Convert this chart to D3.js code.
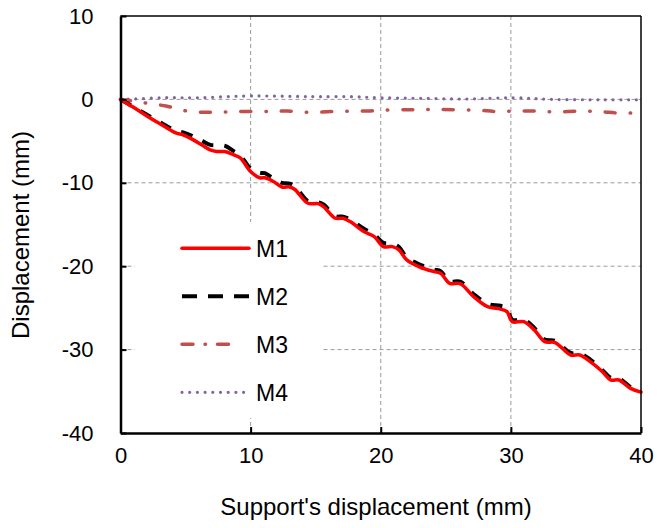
<!DOCTYPE html>
<html>
<head>
<meta charset="utf-8">
<script src="https://cdn.jsdelivr.net/npm/d3@7"></script>
<style>
  body { margin: 0; background: #fff; }
  svg { display: block; font-family: Arial, "Liberation Sans", sans-serif; }
</style>
</head>
<body>
<div id="chart"></div>
<script>
// Support's displacement (mm) - sampled along each curve
const m1X = [0, 1, 2, 3, 3.6, 4.3, 4.8, 5.6, 6.3, 6.9, 7.4, 8.0, 8.7, 9.2, 10, 10.7, 11.1, 11.75, 12.4, 13.0, 13.4, 14.4, 15.2, 15.6, 16.5, 17.1, 17.65, 18.7, 19.5, 20.2, 20.9, 21.4, 22.0, 23.0, 24.1, 24.6, 25.3, 26.1, 27.1, 28.2, 29.2, 29.7, 30.1, 31.0, 31.8, 32.6, 33.4, 34.6, 35.3, 36.1, 37.0, 37.7, 38.3, 39.2, 40];
const m1Y = [0, -0.95, -1.95, -2.9, -3.45, -4.05, -4.25, -4.85, -5.5, -6.05, -6.25, -6.25, -6.65, -7.0, -8.65, -9.4, -9.4, -9.85, -10.5, -10.5, -10.8, -12.45, -12.5, -12.85, -14.25, -14.25, -14.65, -15.85, -16.45, -17.65, -17.65, -18.05, -19.25, -20.1, -20.65, -20.85, -22.05, -22.1, -23.6, -24.85, -25.15, -25.45, -26.65, -26.65, -27.65, -29.05, -29.15, -30.65, -30.65, -31.45, -32.6, -33.65, -33.65, -34.65, -35.1];
const m2Y = [0, -0.9, -1.8, -2.7, -3.25, -3.75, -3.95, -4.45, -5.0, -5.45, -5.5, -5.55, -6.2, -6.7, -8.3, -8.8, -8.85, -9.5, -10.0, -10.1, -10.4, -12.2, -12.35, -12.6, -14.0, -14.05, -14.4, -15.5, -16.2, -17.2, -17.3, -17.7, -18.95, -19.8, -20.4, -20.6, -21.8, -21.85, -23.3, -24.5, -24.75, -25.0, -26.4, -26.4, -27.4, -28.8, -28.95, -30.4, -30.45, -31.2, -32.4, -33.4, -33.45, -34.5, -35.05];
const m3X = [0, 1, 2, 3.5, 5.1, 6.9, 8.2, 9.7, 11.4, 12.8, 14.6, 16.5, 19.2, 21, 22.6, 24.1, 25.7, 27.5, 28.9, 30.4, 31.9, 33.5, 35.2, 36.8, 38.4, 40];
const m3Y = [0, -0.2, -0.45, -0.8, -1.4, -1.55, -1.5, -1.45, -1.45, -1.4, -1.55, -1.45, -1.38, -1.25, -1.25, -1.2, -1.25, -1.3, -1.45, -1.4, -1.4, -1.5, -1.4, -1.45, -1.65, -1.6];
const m4X = [0, 1, 3.5, 6.1, 9.4, 11.8, 13.8, 15.3, 17.7, 19.9, 23, 26.6, 30.2, 33.2, 37.1, 40];
const m4Y = [0, 0.05, 0.2, 0.2, 0.4, 0.4, 0.35, 0.33, 0.33, 0.2, 0.13, 0.05, 0.2, 0.0, -0.05, -0.05];

const seriesNames = ['M1', 'M2', 'M3', 'M4'];
const xTicks = [0, 10, 20, 30, 40];
const yTicks = [10, 0, -10, -20, -30, -40];

const width = 657, height = 528;
const margin = { top: 16, right: 16, bottom: 95, left: 120.5 };

const svg = d3.select('#chart').append('svg')
    .attr('width', width)
    .attr('height', height);

const x = d3.scaleLinear().domain([0, 40]).range([margin.left, width - margin.right]);
const y = d3.scaleLinear().domain([-40, 10]).range([height - margin.bottom, margin.top]);

// grid
svg.append('g')
    .selectAll('line.vg')
    .data(xTicks.filter(d => d > 0 && d < 40))
    .enter().append('line')
    .attr('x1', d => x(d)).attr('x2', d => x(d))
    .attr('y1', y(10)).attr('y2', y(-40))
    .attr('stroke', '#9a9a9a').attr('stroke-width', 1).attr('stroke-dasharray', '4 3');

svg.append('g')
    .selectAll('line.hg')
    .data(yTicks.filter(d => d < 10 && d > -40))
    .enter().append('line')
    .attr('x1', x(0)).attr('x2', x(40))
    .attr('y1', d => y(d)).attr('y2', d => y(d))
    .attr('stroke', '#9a9a9a').attr('stroke-width', 1).attr('stroke-dasharray', '4 3');

// legend background hides the grid behind it
svg.append('rect')
    .attr('x', 135).attr('y', 222)
    .attr('width', 188).attr('height', 196)
    .attr('fill', '#fff');

const series = [
    { name: 'M1', xs: m1X, ys: m1Y, color: '#ff0000', w: 3.5, dash: null, cap: 'round' },
    { name: 'M2', xs: m1X, ys: m2Y, color: '#000000', w: 4, dash: '12 11', cap: 'butt' },
    { name: 'M3', xs: m3X, ys: m3Y, color: '#c0504d', w: 3.5, dash: '10 15 0.5 15', cap: 'round' },
    { name: 'M4', xs: m4X, ys: m4Y, color: '#8064a2', w: 3.2, dash: '0 7.7', cap: 'round' }
];

const line = d3.line()
    .x(d => x(d[0]))
    .y(d => y(d[1]))
    .curve(d3.curveCatmullRom.alpha(0.5));

// red sits on top of the black dashes in the reference
const drawOrder = ['M4', 'M3', 'M2', 'M1'];
drawOrder.forEach(name => {
    const s = series.find(t => t.name === name);
    const pts = s.xs.map((v, i) => [v, s.ys[i]]);
    svg.append('path')
        .datum(pts)
        .attr('fill', 'none')
        .attr('stroke', s.color)
        .attr('stroke-width', s.w)
        .attr('stroke-linecap', s.cap)
        .attr('stroke-linejoin', 'round')
        .attr('stroke-dasharray', s.dash)
        .attr('d', line);
});

// frame
svg.append('line')
    .attr('x1', x(0)).attr('x2', x(40)).attr('y1', y(10)).attr('y2', y(10))
    .attr('stroke', '#000').attr('stroke-width', 1.5);
svg.append('line')
    .attr('x1', x(40)).attr('x2', x(40)).attr('y1', y(10)).attr('y2', y(-40))
    .attr('stroke', '#000').attr('stroke-width', 1.5);

// axes (plain hyphen for negatives, like the reference)
const fmt = d => String(d);
const xAxis = svg.append('g')
    .attr('transform', `translate(0,${y(-40)})`)
    .call(d3.axisBottom(x).tickValues(xTicks).tickFormat(fmt).tickSizeInner(-6).tickSizeOuter(0).tickPadding(14));
const yAxis = svg.append('g')
    .attr('transform', `translate(${x(0)},0)`)
    .call(d3.axisLeft(y).tickValues(yTicks).tickFormat(fmt).tickSizeInner(-6).tickSizeOuter(0).tickPadding(27));

[xAxis, yAxis].forEach(g => {
    g.select('.domain').attr('stroke', '#000').attr('stroke-width', 2.5);
    g.selectAll('.tick line').attr('stroke', '#000').attr('stroke-width', 2);
    g.selectAll('.tick text')
        .attr('fill', '#000')
        .style('font-size', '22px')
        .style('font-family', 'Arial, "Liberation Sans", sans-serif');
});
xAxis.selectAll('.tick text').attr('dy', '0.71em');

// axis titles
svg.append('text')
    .attr('x', 376).attr('y', 515)
    .attr('text-anchor', 'middle')
    .style('font-size', '24px')
    .text("Support's displacement (mm)");

svg.append('text')
    .attr('transform', 'translate(29,235) rotate(-90)')
    .attr('text-anchor', 'middle')
    .style('font-size', '24px')
    .text('Displacement (mm)');

// legend
const legend = svg.append('g');
series.forEach((s, i) => {
    const ly = 248.3 + i * 48;
    legend.append('line')
        .attr('x1', 182).attr('x2', s.name === 'M3' ? 236 : 249)
        .attr('y1', ly).attr('y2', ly)
        .attr('stroke', s.color)
        .attr('stroke-width', s.w)
        .attr('stroke-linecap', s.cap)
        .attr('stroke-dasharray', s.name === 'M2' ? '15 11' : (s.name === 'M3' ? '11 12 0.5 12' : s.dash));
    legend.append('text')
        .attr('x', 256).attr('y', ly)
        .attr('dy', '0.36em')
        .style('font-size', '23px')
        .text(seriesNames[i]);
});
</script>
</body>
</html>
